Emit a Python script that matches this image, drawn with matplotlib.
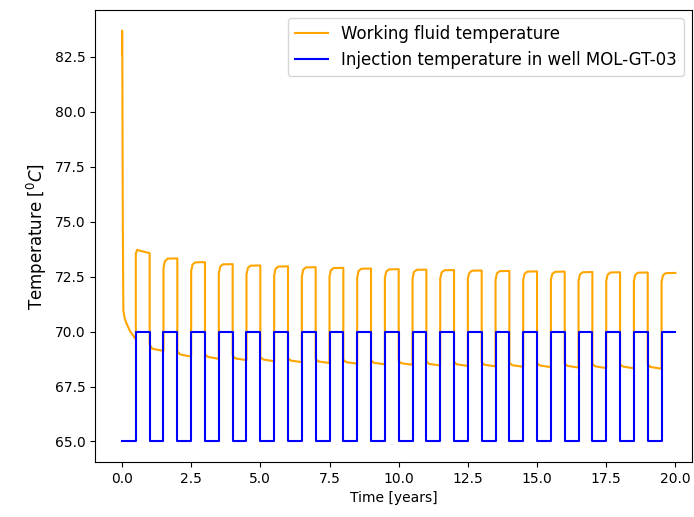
import matplotlib
matplotlib.use("Agg")
import matplotlib.pyplot as plt

# injection temperature, one level per half year (0-0.5, 0.5-1.0, ...)
inj_levels = [65, 70] * 20
years = 20

# working fluid: first half year after start-up
start_t = [0.0, 0.005, 0.01, 0.03, 0.05, 0.1, 0.17, 0.3, 0.5]
start_T = [82.6, 83.7, 83.5, 75.0, 70.95, 70.6, 70.35, 70.0, 69.65]

# high phases (k+0.5 .. k+1), k = 0..19
high_jump = [73.55, 72.9, 72.75, 72.65, 72.6, 72.55, 72.5, 72.5, 72.45, 72.45,
             72.4, 72.4, 72.4, 72.35, 72.35, 72.35, 72.3, 72.3, 72.3, 72.25]
high_knee = [73.72, 73.2, 73.05, 72.96, 72.9, 72.86, 72.82, 72.79, 72.76, 72.73,
             72.71, 72.69, 72.67, 72.65, 72.63, 72.62, 72.6, 72.59, 72.58, 72.56]
high_top = [73.68, 73.32, 73.15, 73.06, 73.0, 72.96, 72.92, 72.89, 72.86, 72.83,
            72.81, 72.79, 72.77, 72.75, 72.73, 72.72, 72.7, 72.69, 72.68, 72.66]
high_end = [73.57, 73.33, 73.16, 73.07, 73.01, 72.97, 72.93, 72.9, 72.87, 72.84,
            72.82, 72.8, 72.78, 72.76, 72.74, 72.73, 72.71, 72.7, 72.69, 72.67]

# low phases (k .. k+0.5), k = 1..19
low_start = [69.4, 69.1, 68.97, 68.9, 68.84, 68.79, 68.75, 68.72, 68.69, 68.66,
             68.64, 68.62, 68.6, 68.58, 68.56, 68.54, 68.53, 68.51, 68.5]
low_mid = [69.22, 68.96, 68.85, 68.78, 68.73, 68.68, 68.64, 68.61, 68.58, 68.56,
           68.53, 68.51, 68.49, 68.47, 68.46, 68.44, 68.42, 68.41, 68.39]
low_end = [69.12, 68.86, 68.76, 68.7, 68.65, 68.61, 68.57, 68.54, 68.51, 68.49,
           68.46, 68.44, 68.42, 68.4, 68.38, 68.36, 68.34, 68.33, 68.31]

# assemble working fluid line
wf_t = list(start_t)
wf_T = list(start_T)
for k in range(years):
    if k >= 1:
        wf_t += [k, k + 0.1, k + 0.5]
        wf_T += [low_start[k - 1], low_mid[k - 1], low_end[k - 1]]
    wf_t += [k + 0.5, k + 0.55, k + 0.65, k + 1.0]
    wf_T += [high_jump[k], high_knee[k], high_top[k], high_end[k]]

# assemble injection step line
inj_t = []
inj_T = []
for i, lev in enumerate(inj_levels):
    inj_t += [i * 0.5, (i + 1) * 0.5]
    inj_T += [lev, lev]

fig = plt.figure(figsize=(6.94, 5.17), dpi=100)
ax = fig.add_axes([95 / 694, (517 - 462) / 517, (692 - 95) / 694, (462 - 10) / 517])

ax.plot(wf_t, wf_T, color="orange", label="Working fluid temperature")
ax.plot(inj_t, inj_T, color="blue", label="Injection temperature in well MOL-GT-03")

ax.set_xlim(-0.975, 20.6)
ax.set_ylim(64.065, 84.635)
ax.set_xlabel("Time [years]")
ax.set_ylabel(r"Temperature [$^0C$]", fontsize=12)
ax.legend(loc="upper right", fontsize=12)

fig.savefig("out.png", dpi=100)
